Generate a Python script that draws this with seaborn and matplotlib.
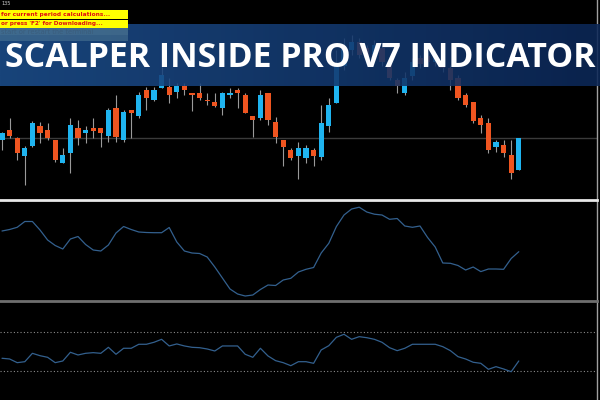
import matplotlib
matplotlib.use("Agg")
import matplotlib.pyplot as plt
import numpy as np
import pandas as pd
import seaborn as sns
from matplotlib.patches import Rectangle

# ---------------- data ----------------
open_ = [60, 70, 62, 44, 54, 74, 70, 60, 37, 47, 72, 67, 72, 72, 64, 92, 60, 90, 84, 110,
         100, 112, 113, 108, 114, 107, 107, 100, 98, 92, 105, 110, 105, 84, 82, 107, 78, 60, 50, 44,
         42, 50, 43, 74, 97, 134, 150, 158, 152, 145, 152, 138, 120, 107, 124, 142, 144, 138, 138, 132,
         122, 105, 98, 82, 77, 53, 55, 45, 30]
close_ = [67, 64, 47, 52, 77, 67, 62, 40, 45, 75, 62, 70, 69, 67, 90, 63, 88, 87, 105, 102,
          110, 125, 105, 114, 110, 105, 102, 99, 94, 107, 107, 107, 87, 80, 105, 80, 63, 53, 42, 52,
          52, 44, 77, 95, 134, 152, 158, 145, 142, 155, 138, 122, 114, 122, 138, 136, 138, 145, 132, 120,
          102, 95, 79, 75, 50, 58, 47, 27, 62]
high_ = [68, 82, 63, 54, 79, 78, 77, 60, 52, 82, 80, 74, 82, 72, 92, 105, 90, 90, 108, 113,
         113, 133, 122, 117, 117, 107, 117, 107, 107, 108, 112, 112, 107, 84, 110, 107, 83, 60, 52, 58,
         55, 52, 95, 102, 150, 162, 165, 162, 155, 160, 155, 142, 122, 128, 142, 145, 148, 150, 142, 135,
         125, 107, 98, 85, 82, 60, 60, 60, 62]
low_ = [50, 62, 40, 15, 53, 57, 60, 38, 37, 27, 55, 57, 62, 53, 58, 58, 58, 62, 82, 90,
        99, 112, 97, 102, 105, 89, 100, 95, 93, 85, 102, 92, 87, 63, 80, 75, 57, 34, 40, 21,
        37, 34, 40, 68, 97, 130, 145, 142, 138, 140, 134, 120, 107, 105, 120, 132, 134, 134, 128, 110,
        100, 93, 77, 67, 47, 48, 43, 21, 30]
osc_main = [69, 70.5, 72.7, 78.5, 78.5, 70, 60, 54.5, 51, 61, 63.5, 55.5, 50, 49, 55, 67, 73.5, 70.5, 68, 67.5,
            67.3, 67.3, 72.5, 58, 49, 47, 46.5, 43, 33, 22, 11, 6, 4, 5, 10.5, 15, 14.5, 20, 21.7, 28,
            30.7, 32.5, 47, 56.7, 73.5, 85, 91, 92.8, 88, 85.8, 85, 80.7, 81.5, 74, 72.7, 74, 62.5, 53, 37, 36.7,
            34.5, 30, 33, 28.4, 31, 31, 30.7, 41.5, 48.3]
osc_sub = [39.7, 38.6, 32.9, 34.4, 47.4, 43.7, 41.2, 32.9, 35.5, 49, 44.8, 47.4, 48.4, 47.4, 56.7, 45.9, 55.2, 55.2, 61.4, 61.4,
           64.5, 69.1, 58.8, 61.9, 58.8, 56.7, 56.1, 54.1, 51, 58.8, 58.8, 58.8, 45.9, 41.2, 55.2, 43.3, 36, 32.9, 28.2, 34.4,
           34.4, 31.9, 52.6, 59.2, 72.2, 76.9, 69.1, 73.2, 71.6, 69.1, 64.5, 56.1, 51.5, 55.2, 61.4, 61.4, 61.4, 61.4, 57.7, 51.5,
           42.2, 38.6, 33.5, 31.9, 22.6, 26.7, 23.1, 18.9, 35.5]
level_upper = 80
level_lower = 20
price_line = 62.5
title_text = "SCALPER INSIDE PRO V7 INDICATOR"
notice_lines = ["for current period calculations...", "or press 'F2' for Downloading..."]
faint_line = "start or restart the terminal"
corner_label = "135"

# ---------------- style ----------------
sns.set_theme(style="dark", rc={"axes.facecolor": "black", "figure.facecolor": "black"})
plt.rcParams["font.family"] = ["DejaVu Sans"]

W, H = 600, 400
fig = plt.figure(figsize=(6, 4), dpi=100, facecolor="black")


def add_axes_px(x0, y0, x1, y1, **kw):
    return fig.add_axes([x0 / W, 1 - y1 / H, (x1 - x0) / W, (y1 - y0) / H], **kw)


BLUE = "#1fb4f0"
ORANGE = "#ef5520"
WICK = "#9a9a9a"
LINE = "#33608e"

df = pd.DataFrame({"idx": np.arange(len(open_)), "open": open_, "close": close_,
                   "high": high_, "low": low_})
df["bull"] = df["close"] >= df["open"]
df["body_lo"] = df[["open", "close"]].min(axis=1)
df["body_h"] = (df["close"] - df["open"]).abs().clip(lower=1.0)
df["color"] = np.where(df["bull"], BLUE, ORANGE)

xlim = (-0.263, 78.29)

# ---- panel 1: candles ----
ax1 = add_axes_px(0, 0, 597, 200)
ax1.set_facecolor("black")
ax1.axhline(price_line, color="#3a3a3a", lw=1, zorder=1)
ax1.vlines(df["idx"], df["low"], df["high"], color=WICK, lw=0.8, zorder=2)
ax1.bar(df["idx"], df["body_h"], bottom=df["body_lo"], width=0.7, color=df["color"],
        linewidth=0, zorder=3)
ax1.set_xlim(*xlim)
ax1.set_ylim(0, 200)

# ---- panel 2: main oscillator ----
ax2 = add_axes_px(0, 200, 597, 301)
ax2.set_facecolor("black")
sns.lineplot(x=df["idx"], y=osc_main, ax=ax2, color=LINE, lw=0.9)
ax2.set_xlim(*xlim)
ax2.set_ylim(-1, 100)

# ---- panel 3: sub oscillator ----
ax3 = add_axes_px(0, 301, 597, 400)
ax3.set_facecolor("black")
for lv in (level_upper, level_lower):
    ax3.axhline(lv, color="#8a8a8a", lw=0.8, ls=(0, (1, 2)))
sns.lineplot(x=df["idx"], y=osc_sub, ax=ax3, color=LINE, lw=0.9)
ax3.set_xlim(*xlim)
ax3.set_ylim(-25, 128.5)

for ax in (ax1, ax2, ax3):
    ax.set_xticks([])
    ax.set_yticks([])
    ax.set_xlabel("")
    ax.set_ylabel("")
    ax.grid(False)
    for s in ax.spines.values():
        s.set_visible(False)
    ax.spines["right"].set_visible(True)
    ax.spines["right"].set_color("#a0a0a0")
    ax.spines["right"].set_linewidth(1)

ax2.spines["top"].set_visible(True)
ax2.spines["top"].set_color("#e8e8e8")
ax2.spines["top"].set_linewidth(2)
ax3.spines["top"].set_visible(True)
ax3.spines["top"].set_color("#6e6e6e")
ax3.spines["top"].set_linewidth(2)

# ---- banner ----
axb = add_axes_px(0, 24, 600, 86)
grad = np.linspace(0, 1, 256)
c0 = np.array([28, 78, 140]) / 255
c1 = np.array([12, 40, 88]) / 255
img = np.zeros((2, 256, 4))
for i in range(3):
    img[:, :, i] = c0[i] + (c1[i] - c0[i]) * grad
img[:, :, 3] = 0.88
axb.imshow(img, aspect="auto", extent=(0, 1, 0, 1))
axb.set_axis_off()

# notice boxes
def px_rect(x0, y0, x1, y1, **kw):
    r = Rectangle((x0 / W, 1 - y1 / H), (x1 - x0) / W, (y1 - y0) / H,
                  transform=fig.transFigure, **kw)
    fig.patches.append(r)

px_rect(0, 10, 128, 18.5, facecolor="#ffff00", edgecolor="none", zorder=5)
px_rect(0, 19.5, 128, 28, facecolor="#ffff00", edgecolor="none", zorder=5)
px_rect(0, 28.5, 128, 34.5, facecolor="#6f9aa8", edgecolor="none", alpha=0.45, zorder=5)
px_rect(0, 35, 128, 41, facecolor="#6f9aa8", edgecolor="none", alpha=0.35, zorder=5)

t1 = fig.text(1 / W, 1 - 14.5 / H, notice_lines[0], color="#e01010", fontweight="bold",
              fontsize=5.5, va="center", ha="left", zorder=6)
t2 = fig.text(1 / W, 1 - 24 / H, notice_lines[1], color="#e01010", fontweight="bold",
              fontsize=5.5, va="center", ha="left", zorder=6)
t3 = fig.text(1 / W, 1 - 31.5 / H, faint_line, color="#3a5a78", fontsize=5,
              va="center", ha="left", zorder=6, alpha=0.8)
fig.text(1 / W, 1 - 3.5 / H, corner_label, color="#cfcfcf", fontsize=3.5, va="center", ha="left")

title = fig.text(5 / W, 1 - 67 / H, title_text, color="white", fontsize=28,
                 fontweight="bold", family=["Open Sans", "DejaVu Sans"],
                 ha="left", va="baseline", zorder=7)

fig.canvas.draw()
renderer = fig.canvas.get_renderer()
for t, target in ((title, 590), (t1, 109), (t2, 102), (t3, 92)):
    bb = t.get_window_extent(renderer=renderer)
    t.set_fontsize(t.get_fontsize() * target / bb.width)

fig.savefig("out.png", dpi=100, facecolor="black")
